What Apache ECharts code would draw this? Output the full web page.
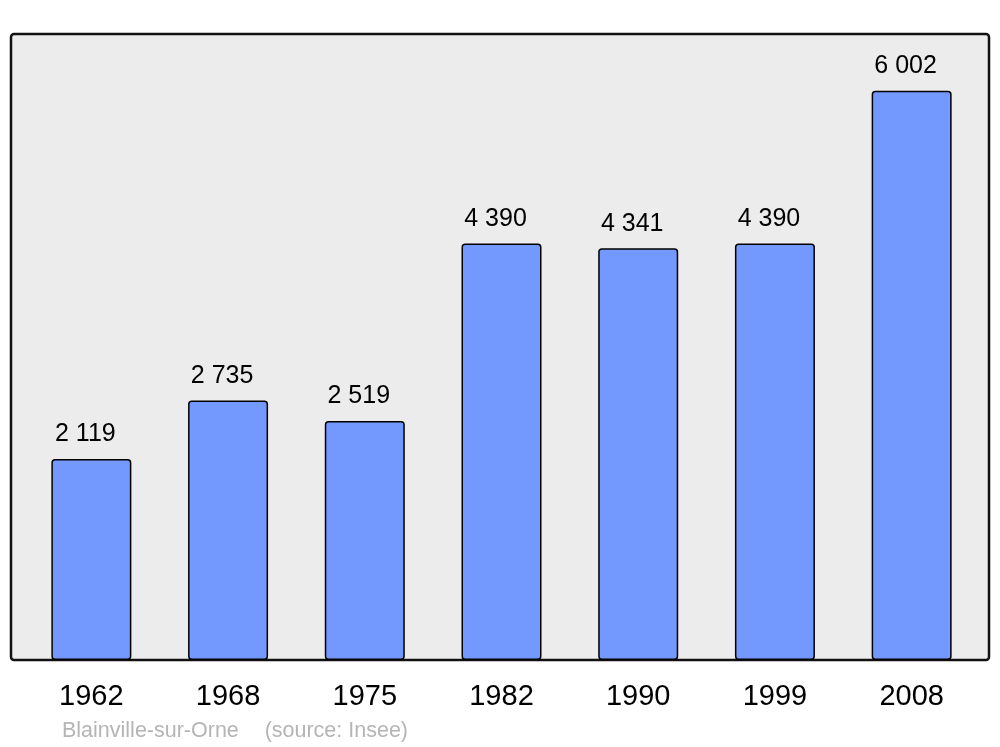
<!DOCTYPE html>
<html><head><meta charset="utf-8">
<script src="https://cdn.jsdelivr.net/npm/echarts@6/dist/echarts.min.js"></script>
<style>html,body{margin:0;padding:0;background:#fff}#c{width:1000px;height:747px}</style>
</head><body><div id="c"></div>
<script>
const years = ['1962','1968','1975','1982','1990','1999','2008'];
const population = [2119, 2735, 2519, 4390, 4341, 4390, 6002];
const sourceText = 'Blainville-sur-Orne\u2003\u2009(source: Insee)';

function fmt(v){ return String(v).replace(/\B(?=(\d{3})+(?!\d))/g, ' '); }

const chart = echarts.init(document.getElementById('c'), null, {renderer:'canvas'});
chart.setOption({
  animation:false,
  backgroundColor:'#ffffff',
  textStyle:{fontFamily:'Liberation Sans, Arial, sans-serif'},
  graphic:[
    {type:'rect', z:-10, shape:{x:11,y:34,width:978,height:626,r:3},
     style:{fill:'#ececec', stroke:'#111', lineWidth:2.5}},
    {type:'text', left:62, top:720, z:10,
     style:{text:sourceText, fill:'#b5b5b5', fontSize:21.5, fontFamily:'Liberation Sans, Arial, sans-serif'}}
  ],
  grid:{left:23, right:20, top:34, bottom:87, containLabel:false},
  xAxis:{type:'category', data:years,
    axisLine:{show:false}, axisTick:{show:false},
    axisLabel:{color:'#000', fontSize:29, margin:22}},
  yAxis:{type:'value', min:0, max:6600, show:false, splitLine:{show:false}},
  series:[{
    type:'bar', data:population, barWidth:80, z:2,
    itemStyle:{color:'#7399ff', borderColor:'#000', borderWidth:1.5, borderRadius:3},
    label:{show:true, position:'top', distance:12, offset:[-6,0], color:'#000', fontSize:25,
      formatter:p=>fmt(p.value)}
  }]
});
</script></body></html>
